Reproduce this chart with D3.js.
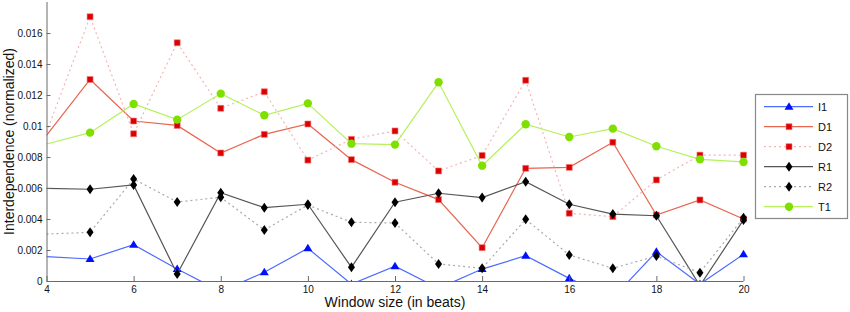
<!DOCTYPE html>
<html><head><meta charset="utf-8">
<script src="https://cdn.jsdelivr.net/npm/d3@7"></script>
<style>body{margin:0;background:#fff}svg{display:block;font-family:"Liberation Sans",Arial,Helvetica,sans-serif}</style>
</head><body><svg id="c" width="850" height="312"></svg>
<script>
const windowSizes = [4,5,6,7,8,9,10,11,12,13,14,15,16,17,18,19,20];
const I1 = [0.00157,0.00142,0.00234,0.00077,-0.00067,0.00056,0.00211,-0.0002,0.00095,-0.00047,0.00077,0.00163,0.00017,-0.0011,0.00189,-0.0002,0.00172];
const D1 = [0.0094,0.0130,0.01032,0.01004,0.00826,0.00946,0.01013,0.00783,0.00637,0.00525,0.00215,0.00727,0.00733,0.00895,0.00426,0.00523,0.0040];
const D2 = [0.0096,0.01705,0.0095,0.01537,0.01114,0.01221,0.0078,0.00914,0.00968,0.0071,0.0081,0.01295,0.00437,0.00415,0.00652,0.00812,0.00812];
const R1 = [0.00598,0.00592,0.0062,0.00045,0.0057,0.00473,0.00495,0.00088,0.00508,0.00566,0.00538,0.00641,0.00495,0.00432,0.00421,-0.0003,0.00394];
const R2 = [0.00303,0.00314,0.00658,0.0051,0.0054,0.00329,0.0049,0.00379,0.00374,0.0011,0.00082,0.00398,0.00168,0.00082,0.00161,0.00054,0.00408];
const T1 = [0.00884,0.00957,0.01142,0.01041,0.01209,0.01069,0.01146,0.00886,0.0088,0.01282,0.00744,0.01011,0.00929,0.00983,0.00869,0.00785,0.00768];
const seriesNames = ["I1","D1","D2","R1","R2","T1"];
const xTicks = [4,6,8,10,12,14,16,18,20];
const yTicks = [0,0.002,0.004,0.006,0.008,0.01,0.012,0.014,0.016];
const xTitle = "Window size (in beats)";
const yTitle = "Interdependence (normalized)";

const styles = {
  I1:{line:"#4d6bff",dash:null,marker:"triangle",fill:"#0010ff"},
  D1:{line:"#e8654f",dash:null,marker:"square",fill:"#dd0000"},
  D2:{line:"#f5b4b4",dash:"2,3",marker:"square",fill:"#dd0000"},
  R1:{line:"#555555",dash:null,marker:"diamond",fill:"#000000"},
  R2:{line:"#aaaaaa",dash:"2,3",marker:"diamond",fill:"#000000"},
  T1:{line:"#b6f05a",dash:null,marker:"circle",fill:"#7fe000"}
};
const dataMap = {I1,D1,D2,R1,R2,T1};

const svg = d3.select("#c");
const x = d3.scaleLinear().domain([4,20]).range([46.5,743.5]);
const y = d3.scaleLinear().domain([0,0.018]).range([281,2]);

svg.append("defs").append("clipPath").attr("id","clip")
  .append("rect").attr("x",46.5).attr("y",0).attr("width",803).attr("height",281);

function markerPath(type){
  if(type==="triangle") return "M0,-4.5L4.5,3L-4.5,3Z";
  if(type==="square") return "M-3,-3H3V3H-3Z";
  if(type==="diamond") return "M0,-5L3.5,0L0,5L-3.5,0Z";
  return d3.symbol(d3.symbolCircle, 55)();
}

const plot = svg.append("g").attr("clip-path","url(#clip)");
const line = d3.line().x(d=>x(d[0])).y(d=>y(d[1]));

seriesNames.forEach(name=>{
  const st = styles[name];
  const pts = windowSizes.map((w,i)=>[w,dataMap[name][i]]);
  plot.append("path").datum(pts).attr("d",line)
    .attr("fill","none").attr("stroke",st.line).attr("stroke-width",1.2)
    .attr("stroke-dasharray",st.dash);
  plot.selectAll(null).data(pts.filter(p=>p[0]>4)).enter().append("path")
    .attr("d",markerPath(st.marker))
    .attr("transform",p=>`translate(${x(p[0])},${y(p[1])})`)
    .attr("fill",st.fill).attr("stroke",st.marker==="square"?"#f08080":"none").attr("stroke-width",0.6);
});

// axes
const axisColor = "#6a6a6a";
const xAxis = svg.append("g").attr("transform","translate(0,281)")
  .call(d3.axisBottom(x).tickValues(xTicks).tickSize(-5).tickPadding(5).tickFormat(d3.format("d")));
const yAxis = svg.append("g").attr("transform","translate(46.5,0)")
  .call(d3.axisLeft(y).tickValues(yTicks).tickSize(-4).tickPadding(4).tickFormat(d=>d===0?"0":d3.format("")(+d.toFixed(3))));
[xAxis,yAxis].forEach(a=>{
  a.select(".domain").attr("stroke",axisColor);
  a.selectAll(".tick line").attr("stroke",axisColor);
  a.selectAll(".tick text").attr("fill","#111").style("font-size","10px").style("font-family","Liberation Sans, Arial, sans-serif");
});
xAxis.select(".domain").attr("d","M46.5,0.5H743.5");
yAxis.select(".domain").attr("d","M0.5,2V281");

svg.append("text").attr("x",395).attr("y",307).attr("text-anchor","middle")
  .style("font-size","14px").attr("fill","#111").text(xTitle);
svg.append("text").attr("transform","translate(14,141.5) rotate(-90)").attr("text-anchor","middle")
  .style("font-size","14px").attr("fill","#111").text(yTitle);

// legend
const lg = svg.append("g");
lg.append("rect").attr("x",755.5).attr("y",94.5).attr("width",92).attr("height",124)
  .attr("fill","#fff").attr("stroke","#888").attr("stroke-width",1.2);
seriesNames.forEach((name,i)=>{
  const st = styles[name];
  const ly = 106.7 + 20*i;
  lg.append("line").attr("x1",764).attr("x2",813).attr("y1",ly).attr("y2",ly)
    .attr("stroke",st.line).attr("stroke-width",1.2).attr("stroke-dasharray",st.dash);
  lg.append("path").attr("d",markerPath(st.marker)).attr("transform",`translate(789,${ly})`)
    .attr("fill",st.fill).attr("stroke",st.marker==="square"?"#f08080":"none").attr("stroke-width",0.6);
  lg.append("text").attr("x",818).attr("y",ly+4).style("font-size","11px").attr("fill","#111").text(name);
});
</script></body></html>
